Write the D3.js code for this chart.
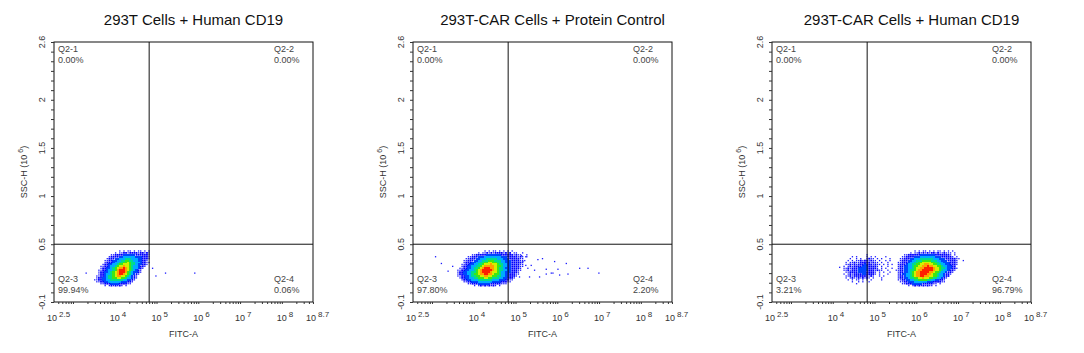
<!DOCTYPE html>
<html>
<head>
<meta charset="utf-8">
<script src="https://cdn.jsdelivr.net/npm/d3@7"></script>
<style>
  body { margin: 0; background: #fff; }
  svg { display: block; font-family: "Liberation Sans", Arial, sans-serif; }
</style>
</head>
<body>
<svg id="chart" width="1084" height="353"></svg>
<script>
// ---- data ----
const panelTitles = ["293T Cells + Human CD19", "293T-CAR Cells + Protein Control", "293T-CAR Cells + Human CD19"];
const quadrantNames = ["Q2-1", "Q2-2", "Q2-3", "Q2-4"];
const quadrantPercents = [
    ["0.00%", "0.00%", "99.94%", "0.06%"],
    ["0.00%", "0.00%", "97.80%", "2.20%"],
    ["0.00%", "0.00%", "3.21%", "96.79%"]
];
const xTickExponents = [2.5, 4, 5, 6, 7, 8, 8.7];   // labelled FITC-A ticks (10^e)
const yTickValues = [-0.1, 0.5, 1, 1.5, 2, 2.6];     // SSC-H (10^6)
const xDomain = [Math.pow(10, 2.5), Math.pow(10, 8.7)];
const yDomain = [-0.1, 2.6];
const gateX = 6.0e4;   // vertical quadrant gate (FITC-A)
const gateY = 0.5;     // horizontal quadrant gate (SSC-H)

// density bins: log10(FITC) width, SSC height; top row starts at binTop
const binLog = 0.05, binSsc = 0.02, binTop = 0.44;
// density level per bin: '.' none, 1 sparse ... 9 highest
const density1 = [
    "............1.1.11.1.11.1.1.",
    "..........1.112212222122121.",
    "........1122223333332222221.",
    ".......12222334444443332221.",
    "......122233444555444332221.",
    ".....112233445566554433221..",
    ".....1222344556676554432211.",
    "....1223344566777655433221..",
    "...1122344567787765443221...",
    "...122334567889876544321....",
    "..112234456899987654321.....",
    "..122334567899986543321.....",
    "..12234456789987654321......",
    ".11223455678877654321.......",
    ".12233455667766544321.......",
    "11223344555555443321........",
    ".112233444444333221.........",
    "...112223333222211..........",
    ".....1.1212121.1............"
];
const density2 = [
    "..............1.1.11.1.1.1.1........",
    "...........1.11212122221212.11..1...",
    "........112222233333332222221211..1.",
    "......112223334444444433322222121.1.",
    ".....1122233444555554443332222211...",
    "....112223344555666555443332222111..",
    "....12223344556677665544333222221...",
    "...112233445567778776554433222211...",
    "...122334455678888876654433222211...",
    "..112233455678999887655433322221....",
    ".1122334456789999987655443322211....",
    ".122334455678999987765443332221.....",
    ".122334456678899887665443322211.....",
    ".11223345566778877665544332221......",
    "..122334455666776655544332221.......",
    "...1223344455555554443332211........",
    "....11223334444444333322211.........",
    "......1122233333322222111...........",
    ".........1.121212121.1.............."
];
const density3Left = [
    "............................",
    "............................",
    ".............1..............",
    "......1.1....1.1.1....1.....",
    ".....1..1.1..1211.1.1...1...",
    "....1.1.1121221211.1..1.1...",
    "...1.11211222221211.1..1....",
    "...11212122232221211.1.1.1..",
    "..1.121222233322221.1..1....",
    "..11212223333322221.1.1..1..",
    "..1121222333332221211..1...1",
    "...112222333322221.1.1..1...",
    "..1.12122223322221.1...1....",
    "...11212222222121..1.1......",
    "...1.1211212121.1...1.......",
    "....1.1.11.1.1.1....1.......",
    "......1..1.1..1.............",
    "........1...................",
    "............................"
];
const density3Main = [
    "........1.1.11.1.1.11.1.1.1...",
    "......1.112121212212112111.1..",
    "...11222222333333322222221.1..",
    "..1122223334444444333222221.1.",
    ".11222334445555554443332222211",
    ".1222334455566665554433322221.",
    "11222344556677776655443332221.",
    "12223445566778877665544332221.",
    "1223344566778898877665443322..",
    "12233445677889999877655433221.",
    "1223345567889999987765443221..",
    "122334567889999887665443221...",
    "12334456788999887665443221....",
    "1223445678899887766544322.....",
    "122334556677877665544321......",
    "11223344556666554433221.......",
    ".1122333444444333222211.......",
    "..11222333332222211.1.........",
    ".....1.1212121211.1..........."
];
const densityGrids = [
    {panel: 0, logStart: 3.45, rows: density1},
    {panel: 1, logStart: 3.5, rows: density2},
    {panel: 2, logStart: 4.1, rows: density3Left},
    {panel: 2, logStart: 5.5, rows: density3Main}
];
// isolated events outside the bins: [log10 FITC-A, SSC-H]
const outliers1 = [[3.27, 0.2], [4.86, 0.25], [4.94, 0.17], [5.17, 0.2], [5.87, 0.2]];
const outliers2 = [
    [3.04, 0.37], [3.18, 0.3], [3.34, 0.22], [3.45, 0.27], [5.1, 0.38], [5.2, 0.37],
    [5.49, 0.34], [5.6, 0.35], [5.89, 0.32], [6.17, 0.3], [6.49, 0.25], [6.69, 0.25],
    [6.95, 0.2], [5.25, 0.25], [5.41, 0.23], [5.69, 0.24], [5.81, 0.2], [6.01, 0.18],
    [5.29, 0.16], [5.53, 0.16], [5.2, 0.28], [5.13, 0.32], [5.33, 0.28], [5.69, 0.19],
    [6.21, 0.19], [5.85, 0.2], [5.05, 0.16], [5.97, 0.24]
];
const outliers3 = [[4.12, 0.26], [7.08, 0.33]];
const outliers = [outliers1, outliers2, outliers3];
const densityColors = ["#1a1aff", "#0000ff", "#0046ff", "#00aaff", "#00dc8c", "#3ce614", "#d2f000", "#ffa000", "#ff1e00"];

// ---- layout ----
const plotW = 259, plotH = 260, plotTop = 42, firstLeft = 54, panelStep = 359;
const svg = d3.select("#chart");

const xScale = d3.scaleLog().domain(xDomain).range([0, plotW]);
const yScale = d3.scaleLinear().domain(yDomain).range([plotH, 0]);

const majorX = [2.5, 3, 4, 5, 6, 7, 8, 8.7].map(e => Math.pow(10, e));
const minorX = [];
for (let k = 2; k <= 8; k++) {
    for (let m = 2; m <= 9; m++) {
        const v = m * Math.pow(10, k);
        if (v > xDomain[0] && v < xDomain[1]) minorX.push(v);
    }
}
const minorY = d3.range(-0.1, 2.61, 0.1).map(v => +v.toFixed(1));
// dot size by density level (1 and 2 are speckled, the rest fill the bin)
const dotSize = level => level === 1 ? 1.3 : 1.8;

panelTitles.forEach((title, i) => {
    const g = svg.append("g")
        .attr("transform", `translate(${firstLeft + i * panelStep},${plotTop})`);

    // title
    g.append("text")
        .attr("x", plotW / 2 + 10)
        .attr("y", -17)
        .attr("text-anchor", "middle")
        .style("font-size", "15px")
        .attr("fill", "#111")
        .text(title);

    // density cells
    const cells = densityGrids.filter(d => d.panel === i).flatMap(grid =>
        grid.rows.flatMap((row, r) => Array.from(row).map((ch, c) => ({
            lx: grid.logStart + c * binLog,
            sy: binTop - r * binSsc,
            level: ch === "." ? 0 : +ch
        }))).filter(d => d.level > 0));

    const cellG = g.append("g").attr("shape-rendering", "crispEdges");
    cellG.selectAll("rect.cell")
        .data(cells.filter(d => d.level > 2))
        .enter().append("rect")
        .attr("class", "cell")
        .attr("x", d => xScale(Math.pow(10, d.lx)))
        .attr("y", d => yScale(d.sy))
        .attr("width", d => xScale(Math.pow(10, d.lx + binLog)) - xScale(Math.pow(10, d.lx)))
        .attr("height", d => yScale(d.sy - binSsc) - yScale(d.sy))
        .attr("fill", d => densityColors[d.level - 1]);

    // sparse bins and single events as small dots
    const dots = cells.filter(d => d.level <= 2)
        .map(d => [d.lx + binLog / 2, d.sy - binSsc / 2, d.level])
        .concat(outliers[i].map(d => [d[0], d[1], 1]));
    g.append("g").selectAll("rect.dot")
        .data(dots)
        .enter().append("rect")
        .attr("class", "dot")
        .attr("x", d => xScale(Math.pow(10, d[0])) - dotSize(d[2]) / 2)
        .attr("y", d => yScale(d[1]) - dotSize(d[2]) / 2)
        .attr("width", d => dotSize(d[2]))
        .attr("height", d => dotSize(d[2]))
        .attr("fill", d => densityColors[d[2] - 1]);

    // frame + quadrant gates
    g.append("rect")
        .attr("width", plotW).attr("height", plotH)
        .attr("fill", "none").attr("stroke", "#111").attr("stroke-width", 1);
    g.append("line")
        .attr("x1", xScale(gateX)).attr("x2", xScale(gateX))
        .attr("y1", 0).attr("y2", plotH)
        .attr("stroke", "#111");
    g.append("line")
        .attr("x1", 0).attr("x2", plotW)
        .attr("y1", yScale(gateY)).attr("y2", yScale(gateY))
        .attr("stroke", "#111");

    // x axis ticks
    const xAxisG = g.append("g").attr("transform", `translate(0,${plotH})`);
    xAxisG.call(d3.axisBottom(xScale).tickValues(majorX).tickSize(4).tickFormat(""));
    xAxisG.call(d3.axisBottom(xScale).tickValues(minorX).tickSize(2).tickFormat(""));
    xAxisG.selectAll(".domain").remove();
    xAxisG.selectAll("line").attr("stroke", "#333");

    const xLab = g.selectAll(".xlab")
        .data(xTickExponents)
        .enter().append("text")
        .attr("class", "xlab")
        .attr("x", e => xScale(Math.pow(10, e)) - 7)
        .attr("y", plotH + 19)
        .attr("fill", "#333")
        .style("font-size", "9px");
    xLab.append("tspan").text("10");
    xLab.append("tspan").attr("dx", 2).attr("dy", -4).style("font-size", "8px").text(e => e);

    g.append("text")
        .attr("x", plotW / 2)
        .attr("y", plotH + 35)
        .attr("text-anchor", "middle")
        .attr("fill", "#333")
        .style("font-size", "9px")
        .text("FITC-A");

    // y axis ticks
    const yAxisG = g.append("g");
    yAxisG.call(d3.axisLeft(yScale).tickValues(yTickValues).tickSize(5).tickFormat(""));
    yAxisG.call(d3.axisLeft(yScale).tickValues(minorY).tickSize(3).tickFormat(""));
    yAxisG.selectAll(".domain").remove();
    yAxisG.selectAll("line").attr("stroke", "#333");

    g.selectAll(".ylab")
        .data(yTickValues)
        .enter().append("text")
        .attr("class", "ylab")
        .attr("transform", v => `translate(-9,${yScale(v)}) rotate(-90)`)
        .attr("text-anchor", "middle")
        .attr("fill", "#333")
        .style("font-size", "9px")
        .text(v => v);

    const yTitle = g.append("text")
        .attr("transform", `translate(-27,${plotH / 2}) rotate(-90)`)
        .attr("text-anchor", "middle")
        .attr("fill", "#333")
        .style("font-size", "9px");
    yTitle.append("tspan").text("SSC-H (10");
    yTitle.append("tspan").attr("dx", 2).attr("dy", -4).style("font-size", "7px").text("6");
    yTitle.append("tspan").attr("dy", 4).text(")");

    // quadrant labels
    const qPos = [[4, 10, "start"], [plotW - 39, 10, "start"], [4, 240, "start"], [plotW - 39, 240, "start"]];
    quadrantNames.forEach((name, q) => {
        const t = g.append("text")
            .attr("x", qPos[q][0])
            .attr("y", qPos[q][1])
            .attr("fill", "#444")
            .style("font-size", "9px");
        t.append("tspan").attr("x", qPos[q][0]).text(name);
        t.append("tspan").attr("x", qPos[q][0]).attr("dy", 10.5).text(quadrantPercents[i][q]);
    });
});
</script>
</body>
</html>
